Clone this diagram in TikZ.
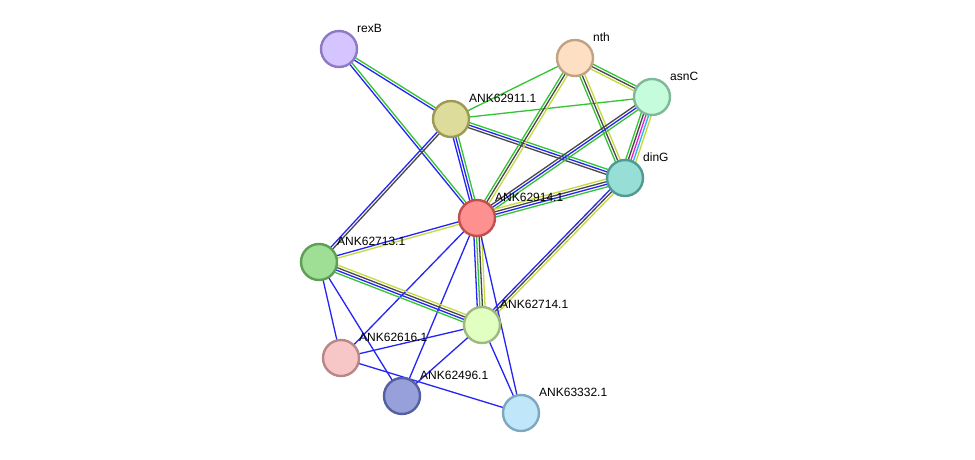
\documentclass[tikz,border=0pt]{standalone}
\usepackage{fontspec}
\setmainfont{Liberation Sans}
\usetikzlibrary{calc,backgrounds}

\definecolor{cgreen}{HTML}{33C433}
\definecolor{cblue}{HTML}{2424F5}
\definecolor{cgray}{HTML}{474747}
\definecolor{cyellow}{HTML}{C5D93F}
\definecolor{cmagenta}{HTML}{E028D8}
\definecolor{ccyan}{HTML}{2CB4E6}

% parallel coloured lines between two proteins
\newcommand{\pairlink}[4]{%
  \foreach \col [count=\k] in {#4}{%
    \pgfmathsetmacro{\off}{(\k-(#3+1)/2)*2.6}
    \draw[link, \col] ($(#1)!\off pt!90:(#2)$) -- ($(#2)!\off pt!-90:(#1)$);
  }}

\begin{document}
\begin{tikzpicture}[x=1pt, y=-1pt,
    prot/.style={circle, draw, line width=2.4pt, minimum size=36pt, inner sep=0pt},
    lbl/.style={anchor=base west, font=\fontsize{12}{14}\selectfont, inner sep=0pt},
    link/.style={line width=1.3pt},
]
\useasboundingbox (0,0) rectangle (975,459);

% ===== Proteins =====
\node[prot, fill={rgb,255:red,212;green,196;blue,255}, draw={rgb,255:red,143;green,121;blue,196}] (rexB) at (339,49) {};
\node[prot, fill={rgb,255:red,222;green,220;blue,154}, draw={rgb,255:red,158;green,154;blue,85}] (n62911) at (451,119) {};
\node[prot, fill={rgb,255:red,253;green,223;blue,196}, draw={rgb,255:red,194;green,162;blue,132}] (nth) at (575,58) {};
\node[prot, fill={rgb,255:red,197;green,252;blue,220}, draw={rgb,255:red,127;green,185;blue,154}] (asnC) at (652,97) {};
\node[prot, fill={rgb,255:red,150;green,222;blue,214}, draw={rgb,255:red,79;green,155;blue,147}] (dinG) at (625,178) {};
\node[prot, fill={rgb,255:red,255;green,144;blue,144}, draw={rgb,255:red,192;green,80;blue,80}] (n62914) at (477,218) {};
\node[prot, fill={rgb,255:red,159;green,222;blue,149}, draw={rgb,255:red,94;green,158;blue,85}] (n62713) at (319,262) {};
\node[prot, fill={rgb,255:red,224;green,255;blue,192}, draw={rgb,255:red,157;green,184;blue,128}] (n62714) at (482,325) {};
\node[prot, fill={rgb,255:red,247;green,198;blue,198}, draw={rgb,255:red,184;green,136;blue,136}] (n62616) at (341,358) {};
\node[prot, fill={rgb,255:red,152;green,160;blue,220}, draw={rgb,255:red,85;green,96;blue,160}] (n62496) at (402,396) {};
\node[prot, fill={rgb,255:red,192;green,230;blue,250}, draw={rgb,255:red,126;green,168;blue,192}] (n63332) at (521,413) {};

% ===== Labels =====
\node[lbl] (rexB-t) at ($(rexB)+(18,-17)$) {rexB};
\node[lbl] (n62911-t) at ($(n62911)+(18,-17)$) {ANK62911.1};
\node[lbl] (nth-t) at ($(nth)+(18,-17)$) {nth};
\node[lbl] (asnC-t) at ($(asnC)+(18,-17)$) {asnC};
\node[lbl] (dinG-t) at ($(dinG)+(18,-17)$) {dinG};
\node[lbl] (n62914-t) at ($(n62914)+(18,-17)$) {ANK62914.1};
\node[lbl] (n62713-t) at ($(n62713)+(18,-17)$) {ANK62713.1};
\node[lbl] (n62714-t) at ($(n62714)+(18,-17)$) {ANK62714.1};
\node[lbl] (n62616-t) at ($(n62616)+(18,-17)$) {ANK62616.1};
\node[lbl] (n62496-t) at ($(n62496)+(18,-17)$) {ANK62496.1};
\node[lbl] (n63332-t) at ($(n63332)+(18,-17)$) {ANK63332.1};

% ===== Interactions =====
\begin{scope}[on background layer]
\fill[white] (0,0) rectangle (975,459);
\pairlink{rexB}{n62911}{2}{cblue,cgreen}
\pairlink{rexB}{n62914}{2}{cblue,cgreen}
\pairlink{n62911}{nth}{1}{cgreen}
\pairlink{n62911}{asnC}{1}{cgreen}
\pairlink{n62911}{dinG}{3}{cgray,cblue,cgreen}
\pairlink{n62911}{n62914}{3}{cblue,cblue,cgreen}
\pairlink{n62911}{n62713}{2}{cblue,cgray}
\pairlink{nth}{asnC}{3}{cyellow,cgray,cgreen}
\pairlink{nth}{dinG}{3}{cgreen,cgray,cyellow}
\pairlink{nth}{n62914}{3}{cgreen,cgray,cyellow}
\pairlink{asnC}{dinG}{5}{cgreen,cgray,cmagenta,ccyan,cyellow}
\pairlink{asnC}{n62914}{3}{cgray,cblue,cgreen}
\pairlink{dinG}{n62914}{4}{cyellow,cgray,cblue,cgreen}
\pairlink{dinG}{n62714}{3}{cblue,cgray,cyellow}
\pairlink{n62914}{n62713}{2}{cblue,cyellow}
\pairlink{n62914}{n62714}{4}{cblue,cgreen,cgray,cyellow}
\pairlink{n62914}{n62616}{1}{cblue}
\pairlink{n62914}{n62496}{1}{cblue}
\pairlink{n62914}{n63332}{1}{cblue}
\pairlink{n62713}{n62714}{4}{cgreen,cblue,cgray,cyellow}
\pairlink{n62713}{n62616}{1}{cblue}
\pairlink{n62713}{n62496}{1}{cblue}
\pairlink{n62714}{n62616}{1}{cblue}
\pairlink{n62714}{n62496}{1}{cblue}
\pairlink{n62714}{n63332}{1}{cblue}
\pairlink{n62616}{n63332}{1}{cblue}
\end{scope}

\end{tikzpicture}
\end{document}
